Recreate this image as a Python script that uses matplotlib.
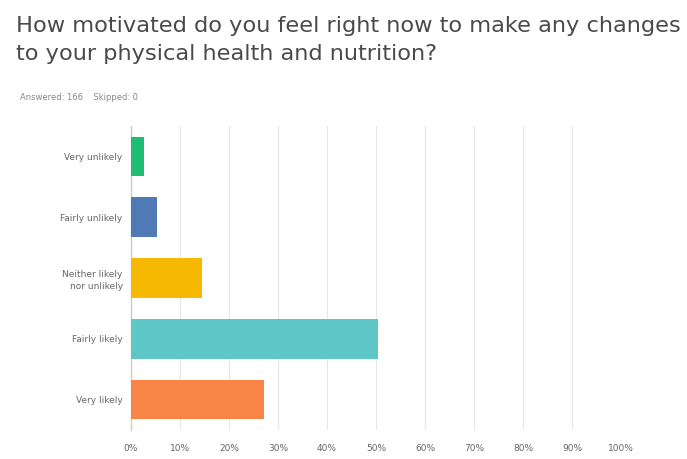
import matplotlib
matplotlib.use("Agg")
import matplotlib.pyplot as plt

categories = ["Very unlikely", "Fairly unlikely", "Neither likely\nnor unlikely", "Fairly likely", "Very likely"]
values = [2.7, 5.4, 14.4, 50.4, 27.1]
colors = ["#1DBE72", "#4F7AB5", "#F6B800", "#5EC6C6", "#F88446"]
xticks = list(range(0, 101, 10))
xticklabels = [f"{t}%" for t in xticks]

title = "How motivated do you feel right now to make any changes\nto your physical health and nutrition?"
subtitle = "Answered: 166    Skipped: 0"

fig = plt.figure(figsize=(6.87, 4.59), dpi=100)
fig.patch.set_facecolor("white")
ax = fig.add_axes([131/687, 1-430/459, (621-131)/687, (430-126)/459])

ypos = list(range(len(categories)))
ax.barh(ypos, values, color=colors, height=0.65, zorder=3)
ax.set_ylim(len(categories)-0.5, -0.5)
ax.set_xlim(0, 100)
ax.set_yticks(ypos)
ax.set_yticklabels(categories, fontsize=6.5, color="#666666", linespacing=1.4)
ax.tick_params(axis="y", length=0, pad=6)
ax.set_xticks(xticks)
ax.set_xticklabels(xticklabels, fontsize=6.5, color="#666666")
ax.tick_params(axis="x", length=0, pad=10)
ax.grid(axis="x", color="#e6e6e6", linewidth=0.8, zorder=0)
for s in ["top", "right", "bottom"]:
    ax.spines[s].set_visible(False)
ax.spines["left"].set_color("#cccccc")
ax.spines["left"].set_linewidth(1.0)

fig.text(16/687, 1-16/459, title, fontsize=16.2, color="#4a4a4a", va="top", ha="left", linespacing=1.5)
fig.text(20/687, 1-97/459, subtitle, fontsize=6, color="#888888", va="center", ha="left")

fig.savefig("out.png", dpi=100, facecolor="white")
